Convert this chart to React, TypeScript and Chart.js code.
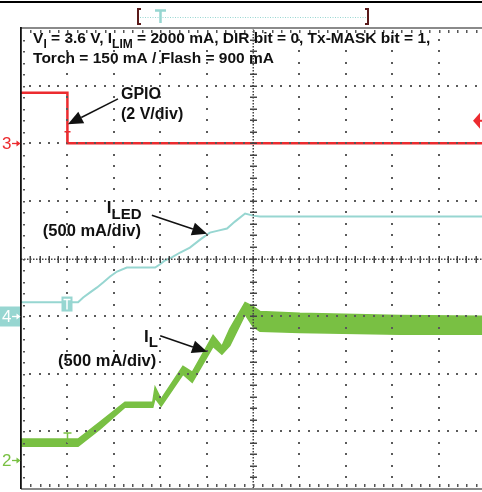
import React, { useEffect, useRef } from "react";
import { Chart, registerables } from "chart.js";

Chart.register(...registerables);

// ---------------- data (time in screen divisions) ----------------
// Channel 3: GPIO (2 V/div)
const gpioTime = [0, 1.0, 1.0, 9.94];
const gpioVolts = [1.75, 1.75, 0, 0];

// Channel 4: I_LED (500 mA/div)
const ledTime = [0, 1.23, 1.34, 1.49, 1.64, 1.77, 1.92, 2.07, 2.28, 2.89, 2.99, 3.1, 3.25, 3.43, 3.64, 3.86, 4.07, 4.25, 4.44, 4.61, 4.83, 5.0, 5.15, 9.94];
const ledCurrent = [120, 120, 162, 206, 249, 292, 344, 387, 422, 422, 448, 483, 509, 552, 595, 664, 725, 742, 760, 820, 890, 872, 864, 864];

// Channel 2: I_L (500 mA/div), ripple envelope
const ilTime = [0, 1.23, 1.7, 2.24, 2.84, 2.89, 3.02, 3.49, 3.69, 4.14, 4.33, 4.5, 4.83, 5.0, 5.15, 6.01, 8.17, 9.94];
const ilUpper = [183, 183, 330, 503, 503, 633, 529, 815, 763, 1083, 988, 1140, 1369, 1334, 1291, 1274, 1256, 1248];
const ilLower = [122, 122, 269, 460, 460, 540, 469, 746, 676, 988, 919, 995, 1265, 1161, 1118, 1109, 1092, 1092];

// channel settings
const CH3_OFFSET = 6; // divisions
const CH4_OFFSET = 3;
const CH2_OFFSET = 0.5;
const VOLTS_PER_DIV = 2;
const MA_PER_DIV = 500;
const TRIGGER_TIME = 1.0;
const TRIGGER_LEVEL_DIV = 6.39;

// texts
const headerLine1: [string, boolean][] = [
  ["V", false], ["I", true], [" = 3.6 V, I", false], ["LIM", true],
  [" = 2000 mA, DIR bit = 0, Tx-MASK bit = 1,", false],
];
const headerLine2 = "Torch = 150 mA / Flash = 900 mA";
const gpioLabel = ["GPIO", "(2 V/div)"];
const ledLabel: [string, string, string] = ["I", "LED", "(500 mA/div)"];
const ilLabel: [string, string, string] = ["I", "L", "(500 mA/div)"];

const RED = "#ec2b2f";
const TEAL = "#97d6d1";
const GREEN = "#79c043";
const FONT = '"Liberation Sans", Arial, sans-serif';

function pts(t: number[], v: number[], scale: number, off: number) {
  return t.map((x, i) => ({ x, y: v[i] / scale + off }));
}

function rich(ctx: CanvasRenderingContext2D, x: number, y: number, parts: [string, boolean][], size: number, subSize: number, drop: number) {
  let cx = x;
  for (const [t, sub] of parts) {
    ctx.font = `bold ${sub ? subSize : size}px ${FONT}`;
    ctx.fillText(t, cx, sub ? y + drop : y);
    cx += ctx.measureText(t).width;
  }
}

function arrow(ctx: CanvasRenderingContext2D, x1: number, y1: number, x2: number, y2: number, head = 15, half = 6.5) {
  const a = Math.atan2(y2 - y1, x2 - x1);
  const bx = x2 - head * Math.cos(a);
  const by = y2 - head * Math.sin(a);
  ctx.beginPath();
  ctx.moveTo(x1, y1);
  ctx.lineTo(bx, by);
  ctx.stroke();
  ctx.beginPath();
  ctx.moveTo(x2, y2);
  ctx.lineTo(bx + half * Math.sin(a), by - half * Math.cos(a));
  ctx.lineTo(bx - half * Math.sin(a), by + half * Math.cos(a));
  ctx.closePath();
  ctx.fill();
}

const overlay = {
  id: "scopeOverlay",
  afterDatasetsDraw(chart: any) {
    const ctx: CanvasRenderingContext2D = chart.ctx;
    const xs = chart.scales.x;
    const ys = chart.scales.y;
    const { left, right, top, bottom } = chart.chartArea;
    const X = (v: number) => xs.getPixelForValue(v);
    const Y = (v: number) => ys.getPixelForValue(v);
    ctx.save();

    // ---- graticule ----
    ctx.fillStyle = "#5a5a5a";
    for (let i = 1; i < 10; i++) {
      if (i === 5) continue;
      const px = Math.round(X(i));
      for (let j = 1; j < 40; j++) {
        const py = Math.round(Y(j * 0.2));
        ctx.fillRect(px - 1, py - 1, 2, 2);
      }
    }
    for (let i = 1; i < 8; i++) {
      if (i === 4) continue;
      const py = Math.round(Y(i));
      for (let j = 1; j < 50; j++) {
        const px = Math.round(X(j * 0.2));
        ctx.fillRect(px - 1, py - 1, 2, 2);
      }
    }
    // center cross
    const cx = Math.round(X(5));
    const cy = Math.round(Y(4));
    ctx.fillStyle = "#444";
    for (let py = top; py < bottom; py += 3) ctx.fillRect(cx - 0.5, py, 1.5, 1.5);
    for (let px = left; px < right; px += 3) ctx.fillRect(px, cy - 0.5, 1.5, 1.5);
    for (let j = 1; j < 40; j++) {
      const py = Math.round(Y(j * 0.2));
      ctx.fillRect(cx - 3, py - 0.5, 7, 1.5);
    }
    for (let j = 1; j < 50; j++) {
      const px = Math.round(X(j * 0.2));
      ctx.fillRect(px - 0.5, cy - 3, 1.5, 7);
    }
    // frame
    ctx.fillStyle = "#8a8a8a";
    ctx.fillRect(left, top - 1, right - left, 2);
    ctx.fillRect(left, bottom - 1, right - left, 2);
    ctx.fillStyle = "#111";
    ctx.fillRect(left - 1, top - 1, 1.8, bottom - top + 1);
    ctx.fillStyle = "#555";
    for (let j = 1; j < 50; j++) {
      const px = Math.round(X(j * 0.2));
      ctx.fillRect(px, top + 2, 1.5, 3);
      ctx.fillRect(px, bottom - 5, 1.5, 3);
    }
    for (let j = 1; j < 40; j++) {
      const py = Math.round(Y(j * 0.2));
      ctx.fillRect(left + 2, py, 2, 1.5);
    }

    // ---- top black rule ----
    ctx.fillStyle = "#000";
    ctx.fillRect(0, 1, chart.width, 2);

    // ---- horizontal position bar ----
    ctx.strokeStyle = TEAL;
    ctx.lineWidth = 1;
    ctx.setLineDash([1, 1.5]);
    ctx.beginPath();
    ctx.moveTo(140, 17.5);
    ctx.lineTo(366, 17.5);
    ctx.stroke();
    ctx.setLineDash([]);
    ctx.strokeStyle = "#5a1a1a";
    ctx.lineWidth = 2;
    ctx.beginPath();
    ctx.moveTo(141, 9); ctx.lineTo(138, 9); ctx.lineTo(138, 24); ctx.lineTo(141, 24);
    ctx.moveTo(365, 9); ctx.lineTo(368, 9); ctx.lineTo(368, 24); ctx.lineTo(365, 24);
    ctx.stroke();
    ctx.strokeStyle = TEAL;
    ctx.lineWidth = 2.5;
    ctx.beginPath();
    ctx.moveTo(155, 10.5); ctx.lineTo(166, 10.5);
    ctx.moveTo(160.5, 10); ctx.lineTo(160.5, 23);
    ctx.stroke();

    // ---- channel markers ----
    const mark = (y: number, label: string, color: string, boxed: boolean) => {
      if (boxed) {
        ctx.fillStyle = color;
        ctx.fillRect(0, y - 10, 20, 20);
      }
      const fg = boxed ? "#fff" : color;
      ctx.fillStyle = fg;
      ctx.strokeStyle = fg;
      ctx.font = `17px ${FONT}`;
      ctx.textBaseline = "middle";
      ctx.fillText(label, 2, y + 1);
      ctx.lineWidth = 1.3;
      ctx.beginPath();
      ctx.moveTo(12, y); ctx.lineTo(19, y);
      ctx.stroke();
      ctx.beginPath();
      ctx.moveTo(20.5, y); ctx.lineTo(16.5, y - 3); ctx.lineTo(16.5, y + 3); ctx.closePath();
      ctx.fill();
    };
    mark(Math.round(Y(CH3_OFFSET)) + 0.5, "3", RED, false);
    mark(Math.round(Y(CH4_OFFSET)) + 0.5, "4", TEAL, true);
    mark(Math.round(Y(CH2_OFFSET)) + 0.5, "2", GREEN, false);
    ctx.textBaseline = "alphabetic";

    // trigger level marker (right)
    const ty = Y(TRIGGER_LEVEL_DIV);
    ctx.fillStyle = RED;
    ctx.beginPath();
    ctx.moveTo(473, ty); ctx.lineTo(480, ty - 8); ctx.lineTo(480, ty + 8); ctx.closePath();
    ctx.fill();
    ctx.fillRect(478, ty - 1, 4, 2);

    // trigger "T" markers
    const tx = Math.round(X(TRIGGER_TIME)) + 0.5;
    ctx.strokeStyle = RED;
    ctx.lineWidth = 1.5;
    ctx.beginPath();
    ctx.moveTo(tx - 3, Y(6.2)); ctx.lineTo(tx + 3, Y(6.2));
    ctx.moveTo(tx, Y(6.2)); ctx.lineTo(tx, Y(CH3_OFFSET));
    ctx.stroke();
    ctx.strokeStyle = GREEN;
    ctx.beginPath();
    ctx.moveTo(tx - 4, Y(0.97)); ctx.lineTo(tx + 4, Y(0.97));
    ctx.moveTo(tx, Y(0.97)); ctx.lineTo(tx, Y(0.8));
    ctx.stroke();
    const bTop = Y(3.34);
    ctx.fillStyle = TEAL;
    ctx.fillRect(tx - 6, bTop, 11, 15);
    ctx.strokeStyle = "#fff";
    ctx.lineWidth = 1.5;
    ctx.beginPath();
    ctx.moveTo(tx - 4, bTop + 3); ctx.lineTo(tx + 3, bTop + 3);
    ctx.moveTo(tx - 0.5, bTop + 3); ctx.lineTo(tx - 0.5, bTop + 13);
    ctx.stroke();

    // ---- annotations ----
    ctx.fillStyle = "#111";
    ctx.strokeStyle = "#111";
    rich(ctx, X(0.26), Y(7.74), headerLine1, 15.5, 12, 5);
    ctx.font = `bold 15.5px ${FONT}`;
    ctx.fillText(headerLine2, X(0.26), Y(7.39));

    ctx.font = `bold 16px ${FONT}`;
    ctx.fillText(gpioLabel[0], X(2.155), Y(6.77));
    ctx.fillText(gpioLabel[1], X(2.155), Y(6.42));

    rich(ctx, X(1.85), Y(4.79), [[ledLabel[0], false], [ledLabel[1], true]], 17, 15, 6);
    ctx.font = `bold 16.5px ${FONT}`;
    ctx.fillText(ledLabel[2], X(0.47), Y(4.39));

    rich(ctx, X(2.65), Y(2.55), [[ilLabel[0], false], [ilLabel[1], true]], 17, 15, 5);
    ctx.font = `bold 16.5px ${FONT}`;
    ctx.fillText(ilLabel[2], X(0.8), Y(2.13));

    ctx.lineWidth = 1.5;
    arrow(ctx, X(2.09), Y(6.77), X(1.01), Y(6.33));
    arrow(ctx, X(2.82), Y(4.75), X(4.01), Y(4.43));
    arrow(ctx, X(3.0), Y(2.66), X(4.01), Y(2.38));

    ctx.restore();
  },
};

export default function App() {
  const ref = useRef<HTMLCanvasElement | null>(null);
  useEffect(() => {
    if (!ref.current) return;
    const chart = new Chart(ref.current, {
      type: "line",
      data: {
        datasets: [
          {
            label: "IL upper",
            data: pts(ilTime, ilUpper, MA_PER_DIV, CH2_OFFSET),
            borderColor: GREEN,
            backgroundColor: GREEN,
            borderWidth: 1.5,
            pointRadius: 0,
            fill: "+1",
          },
          {
            label: "IL lower",
            data: pts(ilTime, ilLower, MA_PER_DIV, CH2_OFFSET),
            borderColor: GREEN,
            borderWidth: 1.5,
            pointRadius: 0,
            fill: false,
          },
          {
            label: "ILED",
            data: pts(ledTime, ledCurrent, MA_PER_DIV, CH4_OFFSET),
            borderColor: TEAL,
            borderWidth: 2,
            pointRadius: 0,
            fill: false,
          },
          {
            label: "GPIO",
            data: pts(gpioTime, gpioVolts, VOLTS_PER_DIV, CH3_OFFSET),
            borderColor: RED,
            borderWidth: 2.5,
            pointRadius: 0,
            fill: false,
          },
        ],
      },
      options: {
        responsive: false,
        maintainAspectRatio: false,
        devicePixelRatio: 1,
        animation: false,
        events: [],
        layout: { padding: { left: 21, right: 0, top: 28, bottom: 3 } },
        elements: { line: { tension: 0 } },
        scales: {
          x: { type: "linear", min: 0, max: 9.935, display: false },
          y: { type: "linear", min: 0, max: 8, display: false },
        },
        plugins: { legend: { display: false }, tooltip: { enabled: false }, title: { display: false } },
      },
      plugins: [overlay],
    });
    return () => chart.destroy();
  }, []);
  return (
    <div style={{ position: "fixed", left: 0, top: 0, width: 482, height: 492, background: "#fff" }}>
      <canvas ref={ref} width={482} height={492} style={{ display: "block" }} />
    </div>
  );
}
